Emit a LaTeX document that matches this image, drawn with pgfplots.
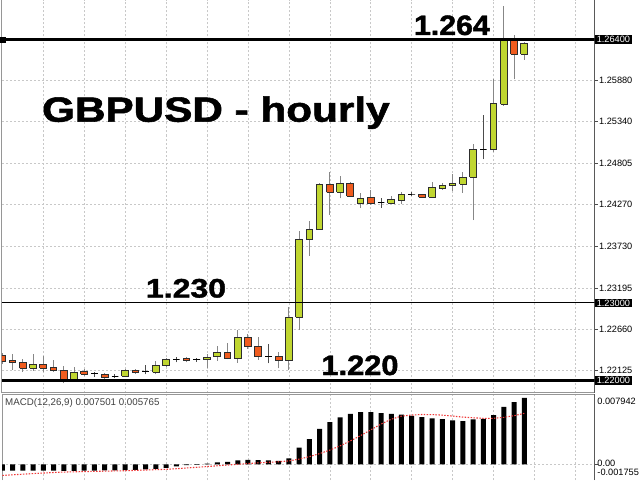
\documentclass[border=0pt]{standalone}
\usepackage{fontspec}
\setmainfont{Liberation Sans}
\newfontfamily\headfont[BoldFeatures={FakeBold=1.5}]{Liberation Sans}
\usepackage{pgfplots}
\usepackage{pgfplotstable}
\pgfplotsset{compat=1.18}

\definecolor{bullcol}{RGB}{192,214,48}
\definecolor{bearcol}{RGB}{240,92,30}
\definecolor{edgecol}{RGB}{45,45,45}
\definecolor{wickcol}{RGB}{135,135,135}
\definecolor{gridcol}{RGB}{200,200,200}
\definecolor{framecol}{RGB}{150,150,150}
\definecolor{sigred}{RGB}{240,55,55}

\newcommand\tickfont{\fontsize{6.9}{7}\selectfont}

% hourly candles: index, open, high, low, close
\pgfplotstableread{
i o h l c
0 1.22318 1.22353 1.22211 1.22241
1 1.22250 1.22340 1.22134 1.22228
2 1.22233 1.22272 1.22112 1.22156
3 1.22156 1.22336 1.22125 1.22207
4 1.22207 1.22318 1.22104 1.22156
5 1.22163 1.22263 1.22112 1.22130
6 1.22130 1.22185 1.21962 1.22017
7 1.22017 1.22168 1.22010 1.22104
8 1.22108 1.22143 1.22060 1.22082
9 1.22086 1.22112 1.22043 1.22086
10 1.22082 1.22101 1.22017 1.22034
11 1.22056 1.22082 1.22026 1.22056
12 1.22056 1.22143 1.22043 1.22125
13 1.22125 1.22143 1.22095 1.22099
14 1.22112 1.22198 1.22078 1.22112
15 1.22104 1.22250 1.22078 1.22194
16 1.22189 1.22292 1.22185 1.22272
17 1.22267 1.22298 1.22233 1.22267
18 1.22285 1.22302 1.22233 1.22259
19 1.22267 1.22292 1.22241 1.22267
20 1.22263 1.22336 1.22156 1.22298
21 1.22305 1.22447 1.22250 1.22357
22 1.22362 1.22478 1.22272 1.22285
23 1.22285 1.22650 1.22228 1.22556
24 1.22556 1.22595 1.22405 1.22435
25 1.22440 1.22564 1.22263 1.22305
26 1.22311 1.22466 1.22220 1.22311
27 1.22314 1.22370 1.22156 1.22250
28 1.22250 1.22943 1.22134 1.22814
29 1.22814 1.23923 1.22650 1.23822
30 1.23813 1.24058 1.23610 1.23951
31 1.23951 1.24553 1.23945 1.24536
32 1.24536 1.24695 1.24136 1.24429
33 1.24429 1.24639 1.24351 1.24545
34 1.24545 1.24566 1.24372 1.24381
35 1.24287 1.24416 1.24230 1.24351
36 1.24359 1.24459 1.24270 1.24278
37 1.24295 1.24359 1.24230 1.24295
38 1.24287 1.24381 1.24278 1.24333
39 1.24329 1.24429 1.24274 1.24407
40 1.24407 1.24429 1.24385 1.24407
41 1.24400 1.24413 1.24362 1.24368
42 1.24364 1.24566 1.24360 1.24488
43 1.24478 1.24549 1.24462 1.24521
44 1.24519 1.24665 1.24452 1.24543
45 1.24536 1.24687 1.24426 1.24623
46 1.24623 1.25049 1.24071 1.24984
47 1.24988 1.25427 1.24855 1.24988
48 1.24984 1.25892 1.24953 1.25578
49 1.25569 1.26835 1.25544 1.26400
50 1.26390 1.26461 1.25888 1.26215
51 1.26215 1.26374 1.26138 1.26353
}\candles

% MACD(12,26,9): main line (histogram) and signal line
\pgfplotstableread{
i m s
0 -0.00070 -0.00124
1 -0.00070 -0.00117
2 -0.00070 -0.00110
3 -0.00070 -0.00103
4 -0.00070 -0.00097
5 -0.00070 -0.00091
6 -0.00072 -0.00086
7 -0.00072 -0.00083
8 -0.00070 -0.00081
9 -0.00070 -0.00078
10 -0.00068 -0.00076
11 -0.00066 -0.00073
12 -0.00063 -0.00071
13 -0.00060 -0.00067
14 -0.00057 -0.00063
15 -0.00050 -0.00059
16 -0.00038 -0.00055
17 -0.00022 -0.00048
18 -0.00008 -0.00040
19 -0.00005 -0.00032
20 0.00008 -0.00024
21 0.00022 -0.00015
22 0.00030 -0.00007
23 0.00045 0.00002
24 0.00052 0.00010
25 0.00050 0.00018
26 0.00045 0.00024
27 0.00040 0.00030
28 0.00068 0.00040
29 0.00190 0.00060
30 0.00285 0.00088
31 0.00400 0.00122
32 0.00477 0.00162
33 0.00531 0.00210
34 0.00569 0.00265
35 0.00589 0.00325
36 0.00589 0.00390
37 0.00580 0.00455
38 0.00569 0.00510
39 0.00561 0.00545
40 0.00549 0.00557
41 0.00534 0.00563
42 0.00519 0.00562
43 0.00511 0.00556
44 0.00496 0.00545
45 0.00488 0.00534
46 0.00508 0.00526
47 0.00515 0.00520
48 0.00557 0.00520
49 0.00650 0.00531
50 0.00704 0.00550
51 0.007501 0.005765
}\macd

\pgfplotsset{
  bull body/.style={draw=edgecol, fill=bullcol, line width=0.75pt},
  bear body/.style={draw=edgecol, fill=bearcol, line width=0.75pt},
  doji body/.style={draw=black, line width=0.75pt},
  bull wick/.style={draw=wickcol, line width=0.75pt},
  bear wick/.style={draw=wickcol, line width=0.75pt},
  doji wick/.style={draw=black!70, line width=0.75pt},
  chartframe/.style={
    scale only axis, width=444.375pt,
    xmin=-0.036, xmax=57.86,
    axis line style={draw=none},
    xtick={4,8,...,56}, xticklabels={}, xmajorticks=false,
    xmajorgrids, ymajorgrids,
    major grid style={gridcol, line width=0.5pt, dash pattern=on 1.5pt off 1.5pt},
    ytick pos=right, yticklabel pos=right,
    tick align=outside, major tick length=2.25pt,
    tick style={draw=black!70, line width=0.5pt},
    yticklabel style={font=\tickfont, anchor=west, inner sep=0pt, xshift=1pt},
    scaled y ticks=false,
    /pgf/number format/assume math mode=true,
    clip mode=individual,
  },
}
\tikzset{
  pricebox/.style={anchor=west, fill=black, text=white, font=\tickfont,
    inner xsep=1.5pt, inner ysep=0pt, minimum height=6.4pt},
  bigtext/.style={anchor=base west, inner sep=0pt,
    font=\headfont\bfseries\fontsize{#1}{30}\selectfont},
}

\begin{document}
\begin{tikzpicture}
\useasboundingbox (0,0) rectangle (480pt,360pt);
\fill[white] (0,0) rectangle (480pt,360pt);

% price panel
\begin{axis}[
  chartframe,
  anchor=south west, at={(1.5pt,65.625pt)}, height=294.375pt,
  ymin=1.218431, ymax=1.269128,
  ytick={1.22125,1.2266,1.23195,1.2373,1.2427,1.24805,1.2534,1.2588},
  yticklabels={1.22125,1.22660,1.23195,1.23730,1.24270,1.24805,1.25340,1.25880},
]
\draw[framecol, line width=0.75pt] (rel axis cs:0,0) -- (rel axis cs:0,1);
\draw[framecol, line width=0.75pt] (rel axis cs:0,0) -- (rel axis cs:1,0);
\draw[black!65, line width=0.75pt] (rel axis cs:1,0) -- (rel axis cs:1,1);

% one wick pair and one body per candle, taken from the table
\pgfplotsinvokeforeach{0,...,51}{
  \pgfplotstablegetelem{#1}{o}\of\candles\let\co\pgfplotsretval
  \pgfplotstablegetelem{#1}{h}\of\candles\let\ch\pgfplotsretval
  \pgfplotstablegetelem{#1}{l}\of\candles\let\cl\pgfplotsretval
  \pgfplotstablegetelem{#1}{c}\of\candles\let\cc\pgfplotsretval
  \pgfmathsetmacro\xl{#1-0.325}
  \pgfmathsetmacro\xr{#1+0.325}
  \edef\lo{\ifdim\cc pt<\co pt \cc\else\co\fi}
  \edef\hi{\ifdim\cc pt<\co pt \co\else\cc\fi}
  \edef\kind{\ifdim\cc pt>\co pt bull\else\ifdim\cc pt<\co pt bear\else doji\fi\fi}
  \edef\candleplot{%
    \noexpand\addplot[\kind\space wick] coordinates {(#1,\hi) (#1,\ch)};
    \noexpand\addplot[\kind\space wick] coordinates {(#1,\cl) (#1,\lo)};
    \noexpand\addplot[\kind\space body] coordinates {(\xl,\lo) (\xr,\lo) (\xr,\hi) (\xl,\hi) (\xl,\lo)};
  }
  \candleplot
}

% horizontal levels
\addplot[black, line width=2.2pt] coordinates {(-0.036,1.264) (57.86,1.264)};
\addplot[black, line width=0.8pt] coordinates {(-0.036,1.23) (57.86,1.23)};
\addplot[black, line width=2.2pt] coordinates {(-0.036,1.22) (57.86,1.22)};
\addplot[only marks, mark=square*, mark size=1.9pt, black] coordinates {(0.05,1.264)};

\node[pricebox] at (axis cs:57.86,1.264) {1.26400};
\node[pricebox] at (axis cs:57.86,1.23) {1.23000};
\node[pricebox] at (axis cs:57.86,1.22) {1.22000};

\node[bigtext=26.2, xscale=1.21] at (axis cs:3.85,1.25341) {GBPUSD - hourly};
\node[bigtext=21, xscale=1.08] at (axis cs:40.2,1.26461) {1.264};
\node[bigtext=20, xscale=1.2] at (axis cs:14.0,1.23070) {1.230};
\node[bigtext=21, xscale=1.1] at (axis cs:31.15,1.22069) {1.220};
\end{axis}

% MACD panel
\begin{axis}[
  chartframe,
  anchor=south west, at={(1.5pt,0pt)}, height=64.5pt,
  ymin=-0.001755, ymax=0.007942,
  ytick={0}, yticklabels={},
]
\draw[framecol, line width=0.75pt] (rel axis cs:0,0) -- (rel axis cs:0,1);
\draw[framecol, line width=0.75pt] (rel axis cs:0,1) -- (rel axis cs:1,1);
\draw[black!65, line width=0.75pt] (rel axis cs:1,0) -- (rel axis cs:1,1);

\addplot[ybar, bar width=3.75pt, fill=black, draw=none] table[x=i, y=m] {\macd};
\addplot[sigred, line width=0.8pt, dash pattern=on 1.1pt off 1.1pt] table[x=i, y=s] {\macd};

\node[anchor=west, inner sep=0pt, text=black!75, font=\fontsize{7.3}{8}\selectfont]
  at (rel axis cs:0.005,0.895) {MACD(12,26,9) 0.007501 0.005765};
\node[anchor=west, inner sep=0pt, font=\tickfont] at (rel axis cs:1,0.9186) {\hspace*{2pt}0.007942};
\node[anchor=west, inner sep=0pt, font=\tickfont] at (rel axis cs:1,0.194) {\hspace*{2pt}0.00};
\node[anchor=west, inner sep=0pt, font=\tickfont] at (rel axis cs:1,0.093) {\hspace*{2pt}-0.001755};
\end{axis}
\end{tikzpicture}
\end{document}
